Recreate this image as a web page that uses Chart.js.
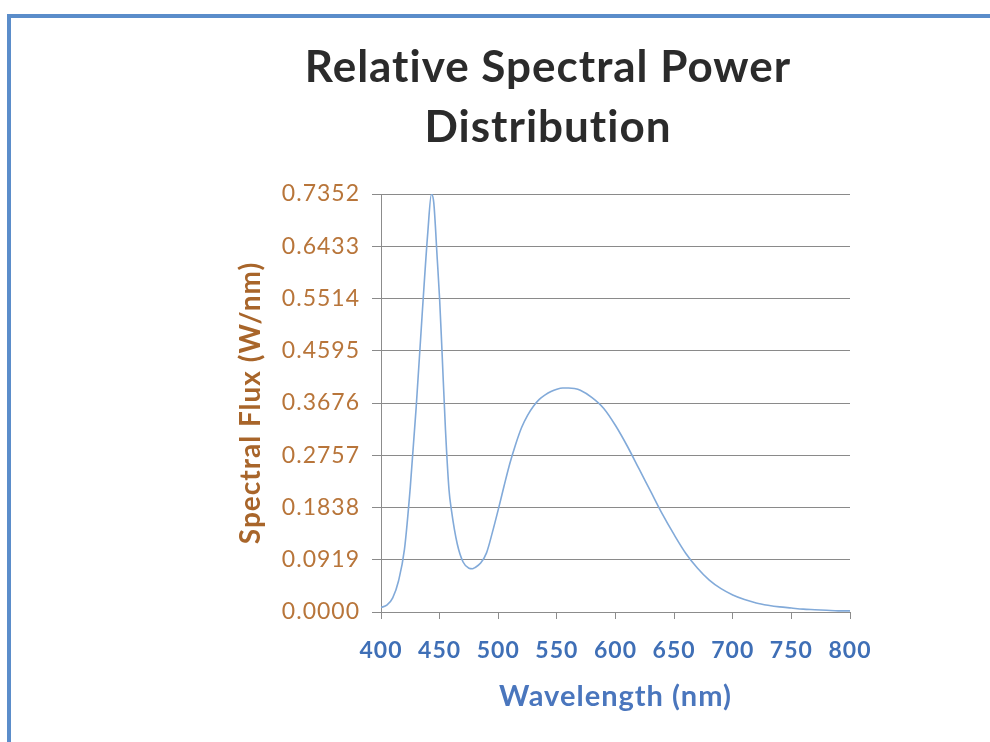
<!DOCTYPE html>
<html>
<head>
<meta charset="utf-8">
<script src="https://cdn.jsdelivr.net/npm/chart.js@4.4.1/dist/chart.umd.min.js"></script>
<style>
  html, body { margin: 0; padding: 0; background: #ffffff; }
  #wrap { position: relative; width: 990px; height: 742px; overflow: hidden; background: #fff; }
  #c { position: absolute; left: 0; top: 0; }
  #bt { position: absolute; left: 7px; top: 14px; width: 983px; height: 4px; background: #5b8dca; }
  #bl { position: absolute; left: 7px; top: 14px; width: 4px; height: 728px; background: #5b8dca; }
</style>
</head>
<body>
<div id="wrap">
  <canvas id="c" width="990" height="742"></canvas>
  <div id="bt"></div>
  <div id="bl"></div>
</div>
<script>
// Data
const wavelengths = [400,405,410,415,420,425,430,435,440,443,445,448,450,452,455,458,460,465,470,475,478,480,485,490,495,500,505,510,515,520,525,530,535,540,545,550,555,560,565,570,580,590,600,610,620,630,640,650,660,670,680,690,700,710,720,730,740,750,760,770,780,790,800];
const spectralFlux = [0.008,0.012,0.025,0.055,0.11,0.22,0.36,0.52,0.67,0.735,0.72,0.62,0.55,0.46,0.32,0.215,0.18,0.12,0.088,0.077,0.076,0.078,0.086,0.104,0.14,0.18,0.222,0.262,0.296,0.325,0.346,0.362,0.374,0.382,0.388,0.392,0.394,0.394,0.393,0.39,0.377,0.358,0.328,0.292,0.252,0.212,0.172,0.136,0.103,0.077,0.056,0.041,0.03,0.022,0.016,0.012,0.009,0.007,0.005,0.004,0.003,0.002,0.002];
const yTickValues = [0, 0.0919, 0.1838, 0.2757, 0.3676, 0.4595, 0.5514, 0.6433, 0.7352];
const xTickValues = [400, 450, 500, 550, 600, 650, 700, 750, 800];
const titleLines = ['Relative Spectral Power', 'Distribution'];

const points = wavelengths.map((w, i) => ({ x: w, y: spectralFlux[i] }));

const spacing = {
  id: 'spacing',
  beforeUpdate(chart) { chart.ctx.letterSpacing = '1px'; }
};

new Chart(document.getElementById('c'), {
  type: 'line',
  data: {
    datasets: [{
      data: points,
      borderColor: '#82aad9',
      borderWidth: 1.6,
      pointRadius: 0,
      cubicInterpolationMode: 'monotone',
      fill: false
    }]
  },
  plugins: [spacing],
  options: {
    responsive: false,
    animation: false,
    layout: { padding: { left: 246, right: 140, top: 30, bottom: 18 } },
    plugins: {
      legend: { display: false },
      tooltip: { enabled: false },
      title: {
        display: true,
        text: titleLines,
        color: '#2b2b2b',
        font: { family: 'Lato', size: 44, weight: 'bold', lineHeight: 1.364 },
        padding: { top: 8, bottom: 36 }
      }
    },
    scales: {
      x: {
        type: 'linear',
        min: 400,
        max: 800,
        afterBuildTicks: (s) => { s.ticks = xTickValues.map(v => ({ value: v })); },
        afterFit: (s) => { s.height = 112; },
        grid: { drawOnChartArea: false, drawTicks: true, tickLength: 7, color: '#8c8c8c' },
        border: { display: true, color: '#8c8c8c', width: 1 },
        ticks: {
          color: '#3f6fb6',
          font: { family: 'Lato', size: 23, weight: 'bold' },
          padding: 18,
          maxRotation: 0,
          callback: (v) => String(v)
        },
        title: {
          display: true,
          text: 'Wavelength (nm)',
          color: '#4a76bd',
          font: { family: 'Lato', size: 29, weight: 'bold' },
          padding: { top: 4, bottom: 10 }
        }
      },
      y: {
        type: 'linear',
        min: 0,
        max: 0.7352,
        afterBuildTicks: (s) => { s.ticks = yTickValues.map(v => ({ value: v })); },
        afterFit: (s) => { s.width = 381 - 246; },
        grid: { drawOnChartArea: true, drawTicks: true, tickLength: 9, color: '#8a8a8a', lineWidth: 1 },
        border: { display: true, color: '#8c8c8c', width: 1 },
        ticks: {
          color: '#b8753a',
          font: { family: 'Lato', size: 23 },
          padding: 12,
          callback: (v) => Number(v).toFixed(4)
        },
        title: {
          display: true,
          text: 'Spectral Flux (W/nm)',
          color: '#a8652a',
          font: { family: 'Lato', size: 28, weight: 'bold' },
          padding: { top: -12, bottom: 4 }
        }
      }
    }
  }
});
</script>
</body>
</html>
